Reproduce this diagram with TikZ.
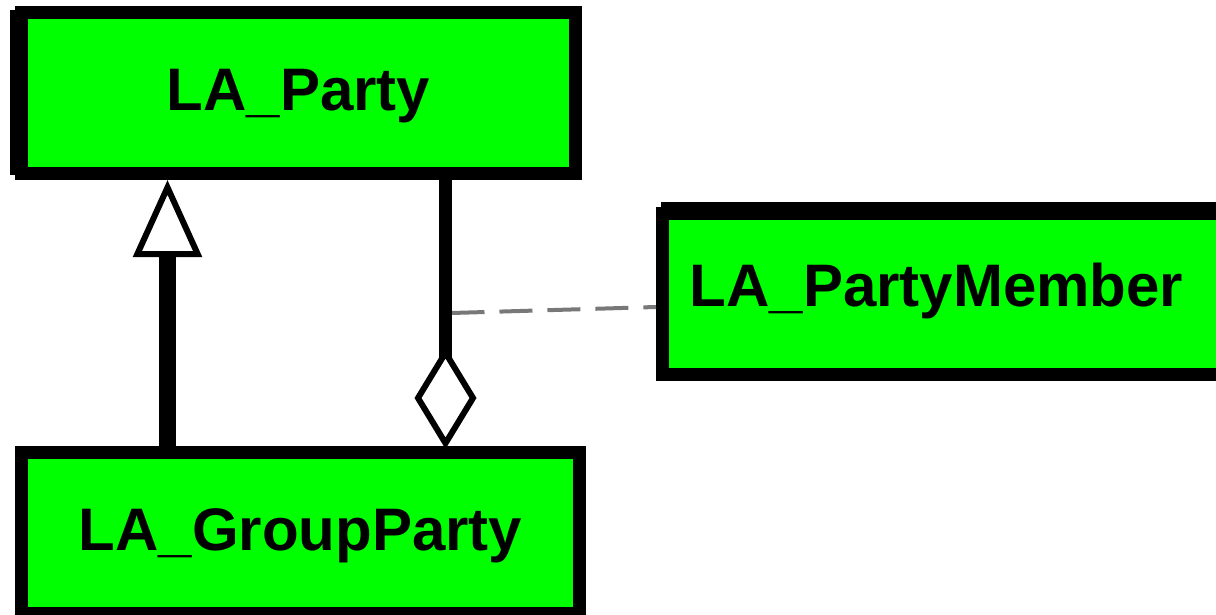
\documentclass[tikz,border=0pt]{standalone}
\usepackage{fontspec}
\setmainfont{Liberation Sans}
\usetikzlibrary{arrows.meta,calc}
\definecolor{boxgreen}{HTML}{00FF00}
\definecolor{linkgray}{HTML}{787878}
\begin{document}
\begin{tikzpicture}[x=1pt,y=-1pt,
  classbox/.style={draw=black, fill=boxgreen, line width=13pt, inner sep=0pt,
    minimum height=161pt, font=\fontsize{60}{68}\selectfont\bfseries, text height=43pt, text depth=9pt},
  gen/.style={line width=17pt, -{Triangle[open, length=77pt, width=68pt, line width=6pt]}},
  agg/.style={line width=12.5pt, -{Diamond[open, length=102pt, width=62pt, line width=6pt]}},
  link/.style={draw=linkgray, line width=4pt, dash pattern=on 33pt off 15pt}]
\useasboundingbox (0,0) rectangle (1216,614);
% class boxes
\fill[black] (10,10) rectangle (16,175);
\node[classbox, minimum width=554pt] (P) at (298.5,93) {LA\_Party};
\node[classbox, minimum width=558pt] (G) at (300.5,533) {LA\_GroupParty};
\fill[black] (661,202) rectangle (1216,208);
\node[classbox, minimum width=560pt, text depth=18pt] (M) at (942.5,294) {\kern-12pt LA\_PartyMember};
% connectors
\coordinate (g1) at ([xshift=152.5pt]G.north west);
\coordinate (a1) at ([xshift=430.5pt]P.south west);
\coordinate (lk) at ($(a1)!0.5!(a1 |- G.north)$);
\draw[link] ([xshift=6pt]lk) -- ([yshift=-13pt]M.west);
\draw[gen] (g1) -- (g1 |- P.south);
\draw[agg] (a1) -- ([yshift=-3pt]a1 |- G.north);
\end{tikzpicture}
\end{document}
